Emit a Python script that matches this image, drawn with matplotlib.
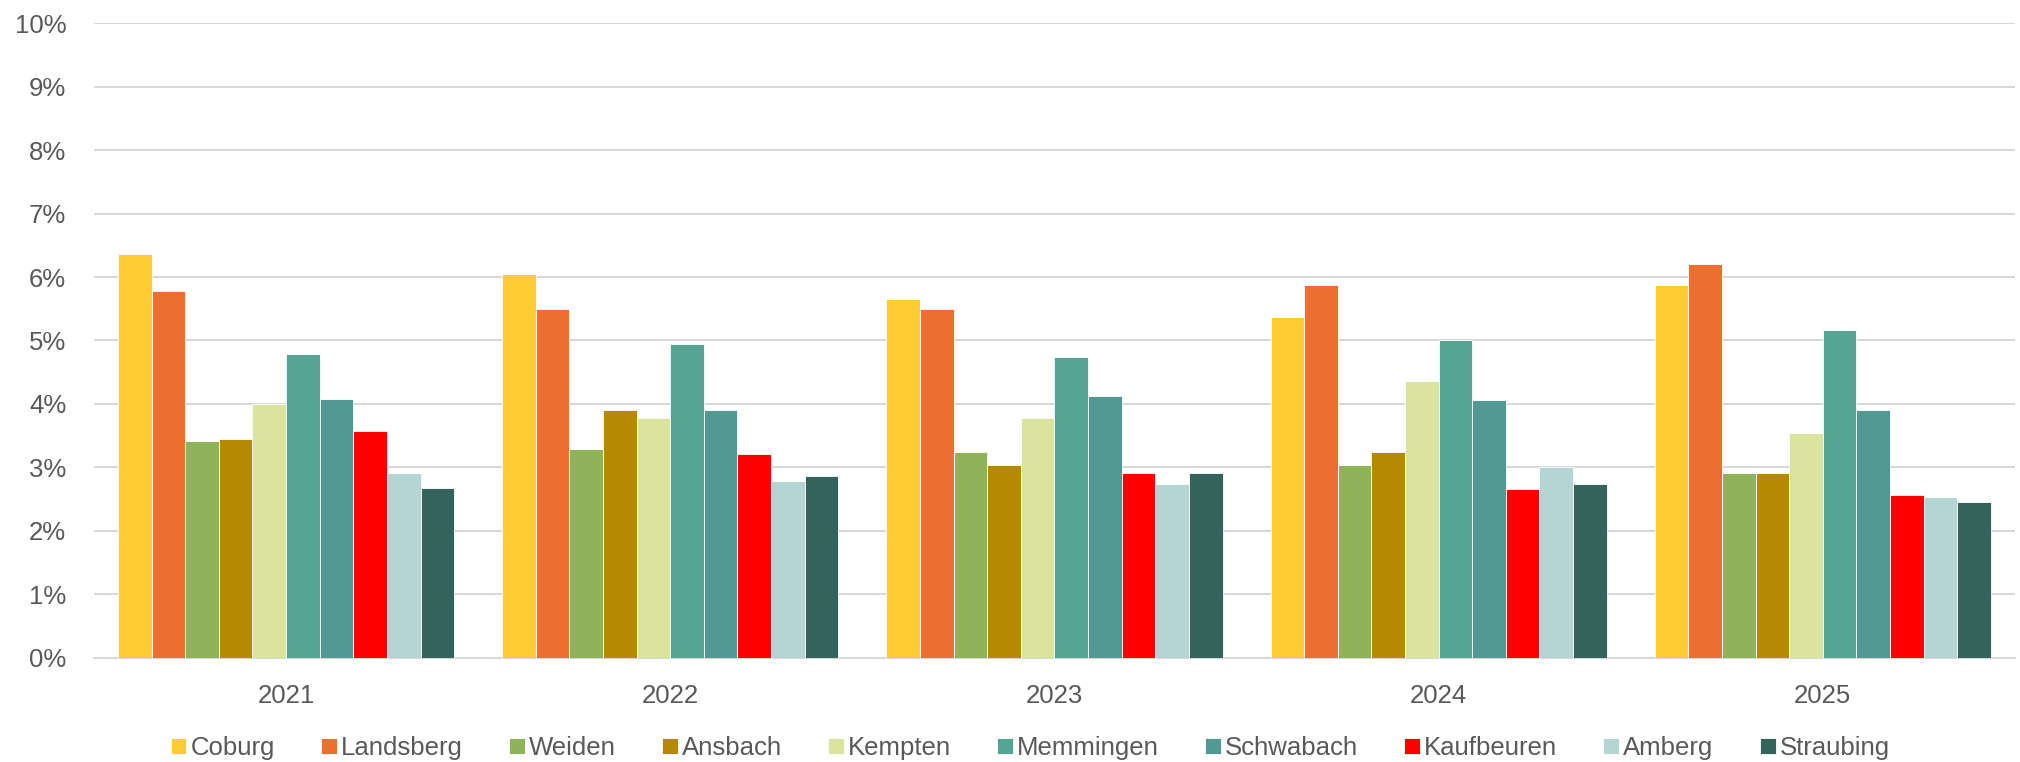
import matplotlib
matplotlib.use("Agg")
import matplotlib.pyplot as plt
import numpy as np
from matplotlib.ticker import FuncFormatter

plt.rcParams['font.family'] = ['Liberation Sans', 'DejaVu Sans']

years = ["2021", "2022", "2023", "2024", "2025"]
cities = ["Coburg", "Landsberg", "Weiden", "Ansbach", "Kempten",
          "Memmingen", "Schwabach", "Kaufbeuren", "Amberg", "Straubing"]
colors = ["#FFCD33", "#EE6E31", "#8FB358", "#B68A00", "#DBE49C",
          "#56A594", "#529993", "#FF0000", "#B4D5D3", "#33635A"]

# share in percent, one list per city (2021..2025)
coburg = [6.37, 6.04, 5.66, 5.37, 5.87]
landsberg = [5.78, 5.49, 5.49, 5.87, 6.21]
weiden = [3.41, 3.29, 3.25, 3.04, 2.91]
ansbach = [3.45, 3.91, 3.04, 3.25, 2.91]
kempten = [4.00, 3.78, 3.78, 4.37, 3.54]
memmingen = [4.79, 4.95, 4.74, 5.00, 5.17]
schwabach = [4.08, 3.91, 4.12, 4.07, 3.91]
kaufbeuren = [3.58, 3.21, 2.91, 2.66, 2.57]
amberg = [2.92, 2.78, 2.74, 3.00, 2.53]
straubing = [2.67, 2.87, 2.91, 2.74, 2.45]

series = [coburg, landsberg, weiden, ansbach, kempten,
          memmingen, schwabach, kaufbeuren, amberg, straubing]

fig = plt.figure(figsize=(20.2, 7.62), dpi=100)
ax = fig.add_axes([0.0465, 0.1365, 0.951, 0.8333])

x = np.arange(len(years))
n = len(series)
bw = 0.875 / n
for i, vals in enumerate(series):
    ax.bar(x - 0.4375 + bw * (i + 0.5), vals, bw, color=colors[i],
           edgecolor="white", linewidth=0.6, label=cities[i], zorder=3)

ax.set_xlim(-0.5, len(years) - 0.5)
ax.set_ylim(0, 10)
ax.set_yticks(range(0, 11))
ax.yaxis.set_major_formatter(FuncFormatter(lambda v, p: "%d%%" % v))
ax.set_xticks(x)
ax.set_xticklabels(years)
ax.grid(axis="y", color="#D9D9D9", linewidth=1.5, zorder=0)
ax.tick_params(axis="both", length=0, labelsize=18.5, labelcolor="#595959")
ax.tick_params(axis="x", pad=19)
ax.tick_params(axis="y", pad=20)
for s in ["top", "right", "left"]:
    ax.spines[s].set_visible(False)
ax.spines["bottom"].set_color("#D9D9D9")
ax.spines["bottom"].set_linewidth(1.5)

leg = fig.legend(loc="center", bbox_to_anchor=(1030 / 2020, 1 - 748 / 762),
                 ncol=10, frameon=False, fontsize=18.5, handlelength=0.62,
                 handleheight=0.55, handletextpad=0.15, columnspacing=1.8)
for t in leg.get_texts():
    t.set_color("#595959")

fig.savefig("out.png", dpi=100)
